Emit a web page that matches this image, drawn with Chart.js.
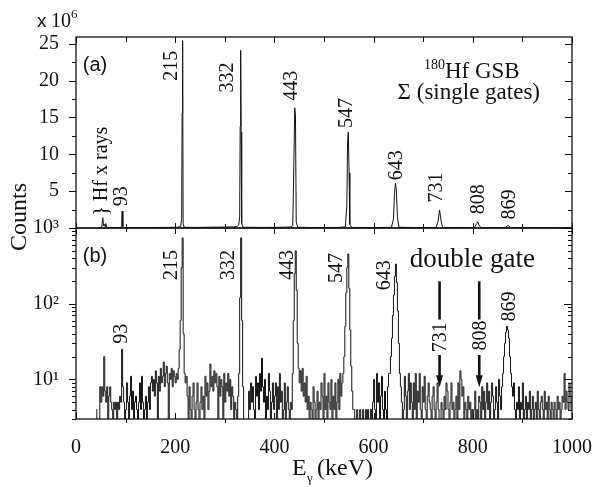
<!DOCTYPE html>
<html>
<head>
<meta charset="utf-8">
<script src="https://cdn.jsdelivr.net/npm/chart.js@4.4.0/dist/chart.umd.min.js"></script>
<style>
  body { margin: 0; background: #fff; }
  #wrap { position: relative; width: 594px; height: 487px; }
  #wrap canvas { position: absolute; left: 0; top: 0; }
</style>
</head>
<body>
<div id="wrap">
  <canvas id="singleCanvas" width="594" height="487"></canvas>
  <canvas id="doubleCanvas" width="594" height="487"></canvas>
</div>
<script>
// energy axis, keV
const energyTicks = [0, 100, 200, 300, 400, 500, 600, 700, 800, 900, 1000];
const energyLabels = [0, 200, 400, 600, 800, 1000];

// (a) sum of single gates, counts in units of 1e6
const singleEnergy = [48, 52, 54, 55.5, 57, 58.5, 60, 62, 66, 90, 92, 93, 94.5, 96, 140, 180, 205, 211, 213, 214, 215, 216, 218,
  240, 290, 318, 324, 328, 330, 331, 332, 333, 334, 337, 380, 420, 433, 437, 439, 441, 442.5, 444, 447,
  480, 530, 543, 546, 547.5, 549, 550.5, 552, 556, 600, 636, 640, 642, 644, 646, 648, 651,
  700, 726, 730, 733, 736, 739, 790, 803, 808, 810, 813, 817, 860, 866, 871, 876, 1000];
const singleCounts = [0.02, 0.1, 1.4, 0.3, 0.5, 0.2, 0.6, 0.1, 0.04, 0.05, 0.3, 2.3, 0.2, 0.04, 0.05, 0.08, 0.1, 0.2, 1.2, 15.6, 25.4, 0.6, 0.1,
  0.08, 0.12, 0.15, 0.2, 0.4, 1.5, 13.8, 24.1, 13.0, 0.6, 0.1, 0.08, 0.1, 0.15, 0.3, 7.7, 16.3, 15.2, 0.8, 0.1,
  0.06, 0.08, 0.15, 3.0, 11.6, 13.0, 7.5, 0.5, 0.08, 0.05, 0.1, 1.2, 4.5, 6.1, 5.0, 1.5, 0.1,
  0.05, 0.08, 0.9, 2.45, 1.0, 0.08, 0.05, 0.05, 0.6, 0.85, 0.3, 0.05, 0.04, 0.1, 0.35, 0.05, 0.03];
const singleTicks = [0, 2.5, 5, 7.5, 10, 12.5, 15, 17.5, 20, 22.5, 25];
const singleLabels = [0, 5, 10, 15, 20, 25];

// (b) double gate spectrum, 2 keV bins starting at 40 keV (one row = 40 keV)
const gateStart = 40;
const gateStep = 2;
const gateCounts = [
  4, 1, 1, 1, 8, 5, 8, 6, 20, 7, 5, 8, 1, 6, 8, 5, 4, 1, 5, 4,
  5, 1, 5, 4, 6, 5, 25, 8, 5, 1, 4, 9, 5, 1, 6, 11, 4, 7, 1, 5,
  6, 4, 1, 5, 9, 4, 11, 5, 1, 4, 6, 1, 5, 8, 4, 9, 11, 7, 10, 6,
  13, 9, 1, 11, 7, 14, 9, 11, 17, 8, 12, 15, 9, 1, 12, 10, 14, 8, 13, 11,
  9, 12, 10, 14, 25, 60, 300, 740, 40, 12, 9, 11, 6, 1, 8, 4, 1, 6, 9, 4,
  1, 5, 9, 4, 1, 5, 8, 4, 6, 1, 11, 6, 9, 4, 7, 16, 8, 11, 7, 13,
  9, 12, 8, 1, 11, 6, 10, 8, 1, 12, 5, 9, 7, 12, 6, 10, 4, 8, 6, 1,
  5, 4, 1, 6, 12, 120, 740, 60, 8, 1, 1, 1, 1, 1, 7, 4, 9, 5, 8, 4,
  1, 11, 6, 9, 4, 12, 7, 19, 8, 5, 10, 1, 6, 4, 12, 7, 1, 5, 9, 4,
  6, 9, 1, 8, 4, 12, 5, 7, 1, 4, 9, 1, 5, 8, 4, 1, 5, 4, 12, 60,
  250, 500, 150, 30, 14, 9, 13, 7, 14, 6, 9, 5, 11, 4, 6, 1, 5, 4, 1, 8,
  5, 1, 4, 7, 1, 5, 4, 9, 6, 1, 12, 4, 6, 1, 9, 5, 4, 10, 1, 6,
  4, 9, 1, 5, 10, 4, 12, 6, 9, 12, 20, 50, 140, 300, 454, 160, 45, 15, 7, 4,
  4, 1, 1, 4, 1, 1, 4, 1, 1, 4, 1, 1, 4, 1, 4, 1, 1, 4, 1, 5,
  10, 4, 1, 12, 5, 9, 1, 6, 11, 4, 1, 7, 4, 1, 8, 12, 12, 20, 35, 70,
  130, 230, 334, 190, 80, 30, 12, 8, 5, 1, 4, 11, 6, 1, 7, 12, 4, 9, 5, 1,
  9, 4, 12, 1, 7, 5, 12, 4, 1, 8, 5, 11, 4, 1, 6, 9, 5, 4, 1, 6,
  8, 4, 1, 5, 9, 4, 1, 1, 5, 4, 1, 6, 4, 9, 7, 4, 1, 5, 9, 4,
  5, 1, 4, 6, 1, 9, 4, 13, 10, 6, 8, 1, 5, 4, 1, 6, 4, 5, 1, 4,
  1, 4, 7, 1, 4, 1, 6, 5, 1, 8, 4, 7, 1, 5, 9, 4, 7, 1, 5, 9,
  6, 1, 4, 8, 5, 1, 10, 6, 4, 8, 12, 20, 30, 42, 50, 45, 35, 20, 12, 8,
  6, 9, 4, 1, 5, 4, 8, 1, 5, 4, 9, 1, 4, 6, 1, 5, 4, 7, 1, 4,
  6, 1, 4, 5, 1, 7, 4, 1, 5, 6, 4, 1, 7, 4, 5, 1, 6, 4, 1, 5,
  4, 1, 5, 4, 1, 6, 4, 5, 1, 4, 6, 5, 12, 4, 7, 5, 4, 9, 6, 4
];
const gateTicks = [3, 4, 5, 6, 7, 8, 9, 10, 20, 30, 40, 50, 60, 70, 80, 90, 100, 200, 300, 400, 500, 600, 700, 800, 900, 1000];
const gateLabels = [10, 100, 1000];

const SERIF = '"Liberation Serif", "Times New Roman", serif';
const SANS = '"Liberation Sans", Arial, sans-serif';
const INK = '#111';

// peak labels, placed in energy / counts
const notesA = [
  { t: '} Hf x rays', e: 51, v: 7.7 },
  { t: '93', e: 92.7, v: 4.3 },
  { t: '215', e: 193.5, v: 22.0 },
  { t: '332', e: 306.5, v: 20.4 },
  { t: '443', e: 435.5, v: 19.3 },
  { t: '547', e: 546, v: 15.6 },
  { t: '643', e: 647, v: 8.5 },
  { t: '731', e: 728, v: 5.5 },
  { t: '808', e: 812.5, v: 3.9 },
  { t: '869', e: 875, v: 3.2 }
];
const notesB = [
  { t: '93', e: 92.7, v: 40 },
  { t: '215', e: 193.5, v: 324 },
  { t: '332', e: 308.5, v: 324 },
  { t: '443', e: 427, v: 324 },
  { t: '547', e: 526, v: 296 },
  { t: '643', e: 623, v: 238 },
  { t: '869', e: 875, v: 92 },
  { t: '731', e: 736, v: 36 },
  { t: '808', e: 816.5, v: 38 }
];
const arrowsB = [
  { e: 733, from: 198, mid1: 62, mid2: 21, to: 7.9 },
  { e: 813, from: 198, mid1: 62, mid2: 21, to: 7.9 }
];

function vtext(ctx, str, x, y, font) {
  ctx.save();
  ctx.translate(x, y);
  ctx.rotate(-Math.PI / 2);
  ctx.font = font;
  ctx.textAlign = 'center';
  ctx.textBaseline = 'middle';
  ctx.fillText(str, 0, 0);
  ctx.restore();
}

// len = [majorIn, majorOut, minorIn, minorOut]
function ticks(ctx, area, side, scale, values, majors, len) {
  ctx.beginPath();
  values.forEach(v => {
    const p = Math.round(scale.getPixelForValue(v)) + 0.5;
    const maj = majors.includes(v);
    const i = maj ? len[0] : len[2];
    const o = maj ? len[1] : len[3];
    if (side === 'left') { ctx.moveTo(area.left - o, p); ctx.lineTo(area.left + i, p); }
    if (side === 'right') { ctx.moveTo(area.right + o, p); ctx.lineTo(area.right - i, p); }
    if (side === 'top') { ctx.moveTo(p, area.top - o); ctx.lineTo(p, area.top + i); }
    if (side === 'bottom') { ctx.moveTo(p, area.bottom + o); ctx.lineTo(p, area.bottom - i); }
  });
  ctx.stroke();
}

function frame(ctx, area) {
  ctx.lineWidth = 1.3;
  ctx.strokeRect(area.left, area.top, area.right - area.left, area.bottom - area.top);
  ctx.lineWidth = 1;
}

const singleDecor = {
  id: 'singleDecor',
  afterDraw(chart) {
    const { ctx, chartArea: a, scales: { x, y } } = chart;
    ctx.save();
    ctx.strokeStyle = INK;
    ctx.fillStyle = INK;
    frame(ctx, a);
    ticks(ctx, a, 'left', y, singleTicks, singleLabels, [0, 7, 0, 4]);
    ticks(ctx, a, 'right', y, singleTicks, singleLabels, [7, 0, 4, 0]);
    ticks(ctx, a, 'top', x, energyTicks, energyLabels, [6, 0, 5, 0]);
    ticks(ctx, a, 'bottom', x, energyTicks, energyLabels, [5, 0, 4, 0]);

    // multiplier above the count axis
    ctx.textAlign = 'left';
    ctx.textBaseline = 'alphabetic';
    ctx.font = '19px ' + SANS;
    ctx.fillText('x', 37, 27);
    ctx.font = '20px ' + SERIF;
    ctx.fillText('10', 51, 27);
    ctx.font = '13px ' + SERIF;
    ctx.fillText('6', 71, 18);

    vtext(ctx, 'Counts', 20, 217, '24px ' + SERIF);

    ctx.font = '20px ' + SANS;
    ctx.textAlign = 'center';
    ctx.textBaseline = 'middle';
    ctx.fillText('(a)', x.getPixelForValue(38.3), y.getPixelForValue(22.1));

    notesA.forEach(n => vtext(ctx, n.t, x.getPixelForValue(n.e), y.getPixelForValue(n.v), '20px ' + SERIF));

    // nucleus and band title
    const cx = x.getPixelForValue(798);
    ctx.textBaseline = 'alphabetic';
    ctx.textAlign = 'left';
    ctx.font = '14px ' + SERIF;
    const wMass = ctx.measureText('180').width;
    ctx.font = '23px ' + SERIF;
    const wName = ctx.measureText('Hf GSB').width;
    const x0 = cx - (wMass + wName) / 2;
    const b1 = y.getPixelForValue(20.3);
    ctx.font = '14px ' + SERIF;
    ctx.fillText('180', x0, b1 - 9);
    ctx.font = '23px ' + SERIF;
    ctx.fillText('Hf GSB', x0 + wMass, b1);
    ctx.textAlign = 'center';
    ctx.fillText('Σ (single gates)', cx - 3, y.getPixelForValue(17.45));
    ctx.restore();
  }
};

const doubleDecor = {
  id: 'doubleDecor',
  afterDraw(chart) {
    const { ctx, chartArea: a, scales: { x, y } } = chart;
    ctx.save();
    ctx.strokeStyle = INK;
    ctx.fillStyle = INK;
    frame(ctx, a);
    ticks(ctx, a, 'left', y, gateTicks, gateLabels, [0, 7, 0, 4]);
    ticks(ctx, a, 'right', y, gateTicks, gateLabels, [8, 0, 4, 0]);
    ticks(ctx, a, 'top', x, energyTicks, energyLabels, [6, 0, 4, 0]);
    ticks(ctx, a, 'bottom', x, energyTicks, energyLabels, [6, 0, 0, 4]);

    ctx.font = '20px ' + SANS;
    ctx.textAlign = 'center';
    ctx.textBaseline = 'middle';
    ctx.fillText('(b)', x.getPixelForValue(38.3), y.getPixelForValue(420));

    notesB.forEach(n => vtext(ctx, n.t, x.getPixelForValue(n.e), y.getPixelForValue(n.v), '20px ' + SERIF));

    ctx.font = '27px ' + SERIF;
    ctx.textAlign = 'left';
    ctx.textBaseline = 'alphabetic';
    ctx.fillText('double gate', x.getPixelForValue(673), y.getPixelForValue(305));

    // arrows pointing at the missing lines
    arrowsB.forEach(ar => {
      const px = x.getPixelForValue(ar.e);
      const tip = y.getPixelForValue(ar.to);
      ctx.lineWidth = 2.6;
      ctx.beginPath();
      ctx.moveTo(px, y.getPixelForValue(ar.from));
      ctx.lineTo(px, y.getPixelForValue(ar.mid1));
      ctx.moveTo(px, y.getPixelForValue(ar.mid2));
      ctx.lineTo(px, tip - 8);
      ctx.stroke();
      ctx.beginPath();
      ctx.moveTo(px - 3.5, tip - 12);
      ctx.lineTo(px + 3.5, tip - 12);
      ctx.lineTo(px, tip);
      ctx.closePath();
      ctx.fill();
    });

    // energy axis title
    ctx.textAlign = 'left';
    ctx.font = '24px ' + SERIF;
    ctx.fillText('E', 292, 475);
    ctx.font = '13px ' + SERIF;
    ctx.fillText('γ', 307, 482);
    ctx.font = '24px ' + SERIF;
    ctx.fillText('(keV)', 317, 475);
    ctx.restore();
  }
};

const common = {
  responsive: false,
  animation: false,
  events: [],
  plugins: { legend: { display: false }, tooltip: { enabled: false } },
  elements: { point: { radius: 0 } }
};

new Chart(document.getElementById('singleCanvas'), {
  type: 'line',
  data: {
    datasets: [{
      data: singleEnergy.map((e, i) => ({ x: e, y: singleCounts[i] })),
      borderColor: '#111', borderWidth: 1, fill: false, tension: 0
    }]
  },
  options: {
    ...common,
    layout: { padding: { top: 37, bottom: 259, left: 0, right: 22 } },
    scales: {
      x: { type: 'linear', min: 0, max: 1000, display: false },
      y: {
        type: 'linear', min: 0, max: 25.9,
        afterFit: s => { s.width = 76; },
        afterBuildTicks: s => { s.ticks = singleTicks.map(v => ({ value: v })); },
        grid: { display: false }, border: { display: false },
        ticks: {
          padding: 9, autoSkip: false, color: INK, font: { family: SERIF, size: 20 },
          callback: v => v === 0 ? '10³' : (singleLabels.includes(v) ? String(v) : '')
        }
      }
    }
  },
  plugins: [singleDecor]
});

new Chart(document.getElementById('doubleCanvas'), {
  type: 'line',
  data: {
    datasets: [{
      data: gateCounts.map((c, i) => ({ x: gateStart + gateStep * (i + 0.5), y: c })),
      borderColor: '#111', borderWidth: 1, fill: false, stepped: 'middle'
    }]
  },
  options: {
    ...common,
    layout: { padding: { top: 228, bottom: 0, left: 0, right: 22 } },
    scales: {
      x: {
        type: 'linear', min: 0, max: 1000,
        afterFit: s => { s.height = 68; s.paddingLeft = 0; s.paddingRight = 0; },
        afterBuildTicks: s => { s.ticks = energyLabels.map(v => ({ value: v })); },
        grid: { display: false }, border: { display: false },
        ticks: { padding: 9, maxRotation: 0, autoSkip: false, color: INK, font: { family: SERIF, size: 20 }, callback: v => String(v) }
      },
      y: {
        type: 'logarithmic', min: 3, max: 1000,
        afterFit: s => { s.width = 76; s.paddingTop = 0; s.paddingBottom = 0; },
        afterBuildTicks: s => { s.ticks = gateTicks.map(v => ({ value: v })); },
        grid: { display: false }, border: { display: false },
        ticks: {
          padding: 9, autoSkip: false, color: INK, font: { family: SERIF, size: 20 },
          callback: v => v === 10 ? '10¹' : (v === 100 ? '10²' : '')
        }
      }
    }
  },
  plugins: [doubleDecor]
});
</script>
</body>
</html>
